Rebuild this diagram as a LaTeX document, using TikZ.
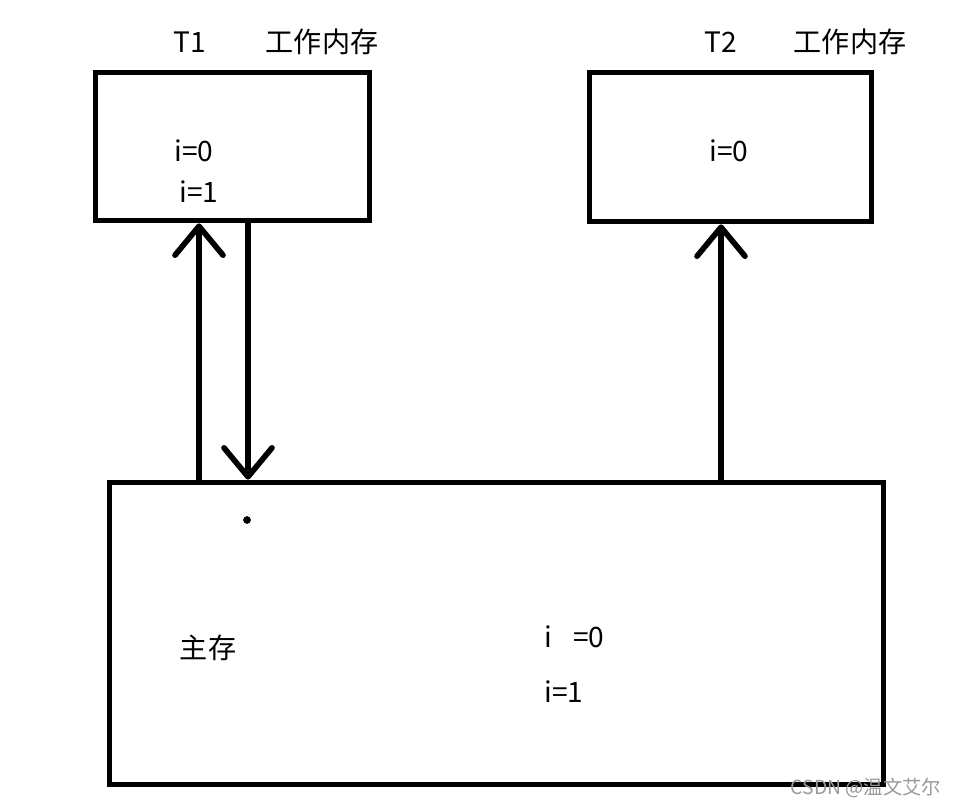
\documentclass[tikz,border=0pt]{standalone}
\usepackage{fontspec}
\setmainfont{Noto Sans CJK SC}
\usetikzlibrary{arrows.meta}
\tikzset{
	box/.style={draw, line width=3.3pt, inner sep=0pt},
	arr/.style={line width=3.2pt, line cap=round, -{Straight Barb[length=0.58cm, width=0.96cm, line width=3.2pt, round]}},
	lbl/.style={font=\fontsize{16}{18}\selectfont, inner sep=0pt}
}
\begin{document}
\begin{tikzpicture}[x=0.02cm, y=-0.02cm]
	\useasboundingbox (0,0) rectangle (956,808);

	\node[box, minimum width=5.48cm, minimum height=2.96cm] (t1) at (232.5,146.5) {};
	\node[box, minimum width=5.64cm, minimum height=2.98cm] (t2) at (730.5,147) {};
	\node[box, minimum width=15.48cm, minimum height=6.04cm] (main) at (496.5,633.5) {};

	\node[lbl] (t1name) at (190,42) {T1};
	\node[lbl] (t1work) at (322,42) {工作内存};
	\node[lbl] (t2name) at (721,42) {T2};
	\node[lbl] (t2work) at (850,42) {工作内存};

	\node[lbl] (t1a) at (194,151) {i=0};
	\node[lbl] (t1b) at (199,192) {i=1};
	\node[lbl] (t2a) at (729,151) {i=0};

	\node[lbl] (mainname) at (208,648) {主存};
	\node[lbl, anchor=west] (maina) at (544,637) {i\hspace{0.75em}=0};
	\node[lbl, anchor=west] (mainb) at (544,692) {i=1};

	\coordinate (c1) at (199,0);
	\coordinate (c2) at (248,0);
	\coordinate (c3) at (721,0);

	\draw[arr] (main.north -| c1) -- (t1.south -| c1);
	\draw[arr] (t1.south -| c2) -- (main.north -| c2);
	\draw[arr] (main.north -| c3) -- (t2.south -| c3);

	\fill (247,520) circle (2.2pt);

	\node[font=\fontsize{11}{13}\selectfont, text=black!40, inner sep=0pt] (mark) at (866,788) {CSDN @温文艾尔};
\end{tikzpicture}
\end{document}
